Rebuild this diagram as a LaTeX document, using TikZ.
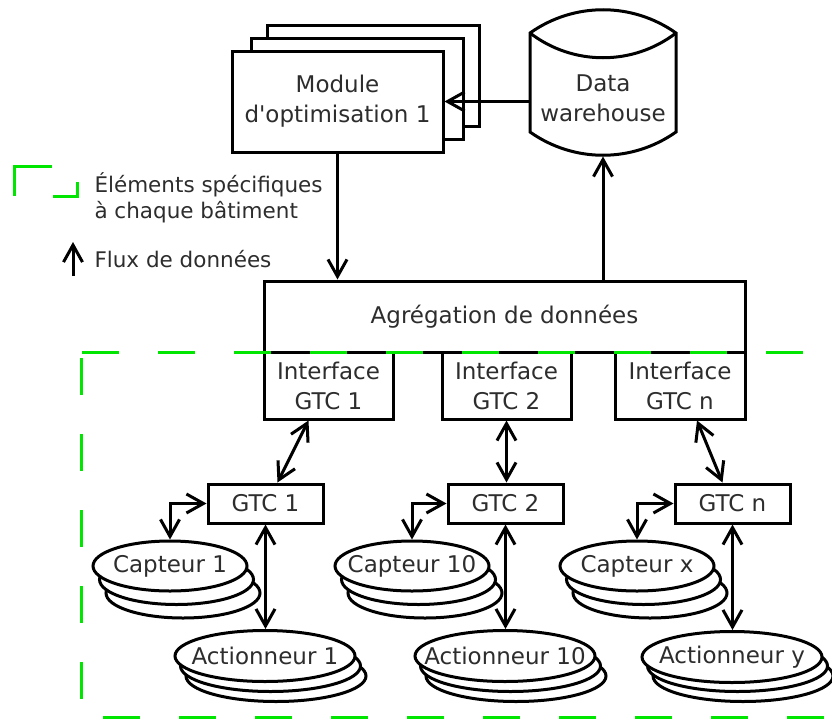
\documentclass[tikz,border=0pt]{standalone}
\usepackage{fontspec}
\setmainfont{DejaVu Sans}
\usetikzlibrary{arrows.meta,shapes.geometric,calc}
\definecolor{zonegreen}{RGB}{0,230,0}
\definecolor{labelgray}{RGB}{45,45,45}

\begin{document}
\begin{tikzpicture}[x=1pt,y=-1pt,line width=3pt,text=labelgray,
        font=\fontsize{23}{30}\selectfont,
        flow/.style={-{Straight Barb[length=17pt,width=19pt]}},
        flowboth/.style={{Straight Barb[length=17pt,width=19pt]}-{Straight Barb[length=17pt,width=19pt]}},
        box/.style={draw,fill=white,inner sep=0pt,align=center},
        disk/.style={draw,fill=white,ellipse,inner sep=0pt,minimum width=154pt,minimum height=50pt},
        act/.style={disk,minimum width=180pt,minimum height=51pt},
        zone/.style={draw=zonegreen,line width=3pt,dash pattern=on 37pt off 39pt},
        legend/.style={anchor=west,inner sep=0pt,align=left,font=\fontsize{21.5}{25.5}\selectfont}]
            \useasboundingbox (0,0) rectangle (832,720);
            \node[box,minimum width=212pt,minimum height=101pt] (mod3) at (373,75.5) {};
            \node[box,minimum width=212pt,minimum height=101pt] (mod2) at (357,88.5) {};
            \node[box,minimum width=211pt,minimum height=101pt] (mod1) at (337.5,101.5) {Module\\d\textquotesingle optimisation 1};
            \node[minimum width=146pt,minimum height=145pt,inner sep=0pt] (dw) at (603,82.5) {};
            \draw[fill=white] (530,33) .. controls (574,2) and (632,2) .. (676,33) -- (676,132)
                .. controls (632,163) and (574,163) .. (530,132) -- cycle;
            \draw (530,33) .. controls (573,66) and (633,66) .. (676,33);
            \node[align=center,inner sep=0pt] (dwlabel) at (603,98) {Data\\warehouse};
            \node[box,minimum width=481pt,minimum height=71pt] (agg) at (504.5,316.5) {Agrégation de données};
            \node[box,minimum width=129pt,minimum height=67pt] (if1) at (328.5,385.5) {Interface\\GTC 1};
            \node[box,minimum width=129pt,minimum height=67pt] (if2) at (506.5,385.5) {Interface\\GTC 2};
            \node[box,minimum width=130pt,minimum height=67pt] (ifn) at (680,385.5) {Interface\\GTC n};
            \node[box,minimum width=115pt,minimum height=39pt] (g1) at (265.5,503.5) {GTC 1};
            \node[box,minimum width=115pt,minimum height=39pt] (g2) at (505.5,503.5) {GTC 2};
            \node[box,minimum width=115pt,minimum height=39pt] (gn) at (732.5,503.5) {GTC n};
            \node[disk] (c1c) at (183,593) {};
            \node[disk] (c1b) at (176.5,579.5) {};
            \node[disk,label=center:{Capteur 1}] (c1) at (170,566) {};
            \node[disk] (c2c) at (425,593) {};
            \node[disk] (c2b) at (418.5,579.5) {};
            \node[disk,label=center:{Capteur 10}] (c2) at (412,566) {};
            \node[disk] (cxc) at (650,593) {};
            \node[disk] (cxb) at (643.5,579.5) {};
            \node[disk,label=center:{Capteur x}] (cx) at (637,566) {};
            \node[act] (a1c) at (276,676) {};
            \node[act] (a1b) at (270.5,666) {};
            \node[act,label=center:{Actionneur 1}] (a1) at (265,656) {};
            \node[act] (a2c) at (516,676) {};
            \node[act] (a2b) at (510.5,666) {};
            \node[act,label=center:{Actionneur 10}] (a2) at (505,656) {};
            \node[act] (ayc) at (743,676) {};
            \node[act] (ayb) at (737.5,666) {};
            \node[act,label=center:{Actionneur y}] (ay) at (732,657) {};
            \draw[flow] (dw.west |- mod1.east) -- (mod1.east);
            \draw[flow] (mod1.south) -- (mod1.south |- agg.north);
            \draw[flow] (agg.north -| dw.south) -- (dw.south);
            \draw[flowboth] ($(if1.south)+(-20,0)$) -- ($(g1.north)+(12,0)$);
            \draw[flowboth] (if2.south) -- (if2.south |- g2.north);
            \draw[flowboth] ($(ifn.south)+(17,0)$) -- ($(gn.north)+(-10,0)$);
            \draw[flowboth] (g1.west) -| (c1.north);
            \draw[flowboth] (g2.west) -| (c2.north);
            \draw[flowboth] (gn.west) -| (cx.north);
            \draw[flowboth] (g1.south) -- (g1.south |- a1.north);
            \draw[flowboth] (g2.south) -- (g2.south |- a2.north);
            \draw[flowboth] (gn.south) -- (gn.south |- ay.north);
            \draw[draw=zonegreen,line width=3pt] (14,196) -- (14,166) -- (52,166);
            \draw[draw=zonegreen,line width=3pt] (53,196) -- (77,196) -- (77,182);
            \node[legend] (legzone) at (93,198) {Éléments spécifiques\\à chaque bâtiment};
            \coordinate (fluxbot) at (73,276);
            \coordinate (fluxtop) at (73,242);
            \draw[flow] (fluxbot) -- (fluxtop);
            \node[legend] (legflux) at (93,259) {Flux de données};
            \draw[zone] (82,352) -- (832,352);
            \draw[zone] (81,358) -- (81,717);
            \draw[zone] (103,717) -- (832,717);
        \end{tikzpicture}
\end{document}
